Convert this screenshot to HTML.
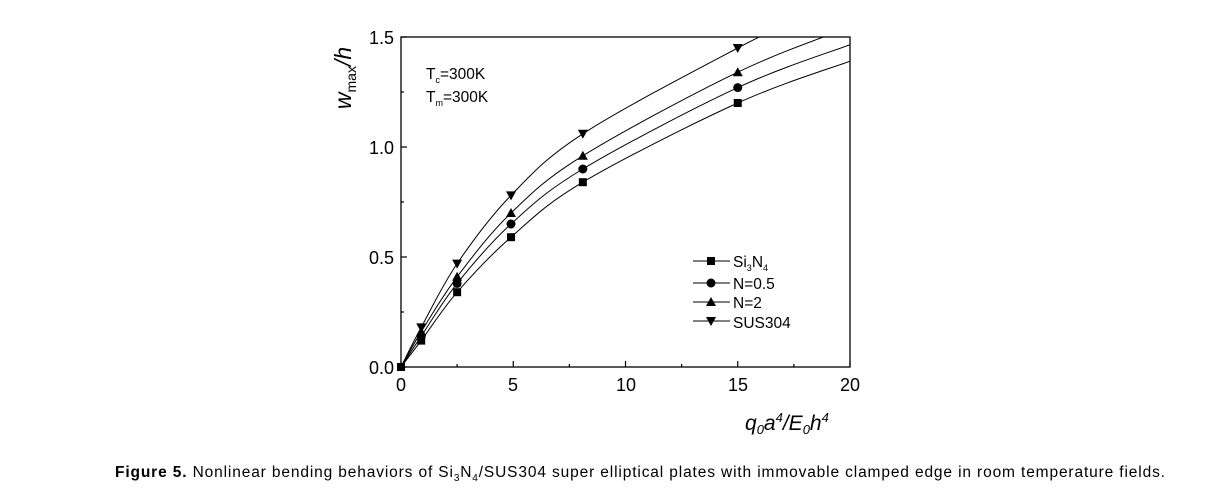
<!DOCTYPE html>
<html><head><meta charset="utf-8"><style>
body{margin:0;background:#fff;width:1205px;height:492px;overflow:hidden;font-family:"Liberation Sans",Arial,sans-serif}
</style></head><body>
<svg width="1205" height="492" xmlns="http://www.w3.org/2000/svg" font-family="Liberation Sans, Arial, sans-serif">
<rect x="401" y="37" width="449" height="330" fill="none" stroke="#000" stroke-width="1.3"/>
<g stroke="#000" stroke-width="1.2" id="ticks"></g>
<g font-size="18" fill="#000" text-anchor="end">
<text x="394" y="44">1.5</text><text x="394" y="154">1.0</text><text x="394" y="264">0.5</text><text x="394" y="374">0.0</text>
</g>
<g font-size="18" fill="#000" text-anchor="middle">
<text x="401" y="391">0</text><text x="513" y="391">5</text><text x="626" y="391">10</text><text x="738" y="391">15</text><text x="850" y="391">20</text>
</g>
<text transform="translate(351,78) rotate(-90)" text-anchor="middle" font-size="23" font-style="italic">w<tspan font-size="14" dy="5" font-style="normal">max</tspan><tspan dy="-5">/h</tspan></text>
<text x="426" y="79" font-size="15.5">T<tspan font-size="9" dy="4">c</tspan><tspan dy="-4">=300K</tspan></text>
<text x="426" y="102" font-size="15.5">T<tspan font-size="9" dy="4">m</tspan><tspan dy="-4">=300K</tspan></text>
<text x="745" y="430" font-size="21" font-style="italic">q<tspan font-size="13" dy="4">0</tspan><tspan dy="-4">a</tspan><tspan font-size="13" dy="-8">4</tspan><tspan dy="8">/E</tspan><tspan font-size="13" dy="4">0</tspan><tspan dy="-4">h</tspan><tspan font-size="13" dy="-8">4</tspan></text>
<g id="curves" fill="none" stroke="#000" stroke-width="1"></g>
<g id="marks" fill="#000"></g>
<g font-size="15.5">
<text x="733" y="267">Si<tspan font-size="9" dy="4">3</tspan><tspan dy="-4">N</tspan><tspan font-size="9" dy="4">4</tspan></text>
<text x="733" y="289">N=0.5</text>
<text x="733" y="308">N=2</text>
<text x="733" y="328">SUS304</text>
</g>
<text x="115" y="477" font-size="15.5" textLength="1050" lengthAdjust="spacing"><tspan font-weight="bold">Figure 5.</tspan> Nonlinear bending behaviors of Si<tspan font-size="10" dy="4">3</tspan><tspan dy="-4">N</tspan><tspan font-size="10" dy="4">4</tspan><tspan dy="-4">/SUS304 super elliptical plates with immovable clamped edge in room temperature fields.</tspan></text>
</svg>
<script>
const X=x=>401+x*22.45,Y=y=>367-y*220;
const ns="http://www.w3.org/2000/svg";
function el(p,t,a){const e=document.createElementNS(ns,t);for(const k in a)e.setAttribute(k,a[k]);p.appendChild(e);return e;}
const svg=document.querySelector('svg');
const tk=document.getElementById('ticks');
for(let i=0;i<=8;i++){const x=X(i*2.5);el(tk,'line',{x1:x,x2:x,y1:367,y2:367-(i%2?3:6)});}
for(let i=0;i<=6;i++){const y=Y(i*0.25);el(tk,'line',{x1:401,x2:401+(i%2?3:6),y1:y,y2:y});}
const xs=[0,0.9,2.5,4.9,8.1,15,20];
const S=[[0,0.12,0.34,0.59,0.84,1.2,1.39],[0,0.14,0.38,0.65,0.90,1.27,1.465],[0,0.16,0.41,0.70,0.96,1.34,1.545],[0,0.18,0.47,0.78,1.06,1.45,1.7]];
const cv=document.getElementById('curves'),mk=document.getElementById('marks');
function marker(t,x,y){
 if(t==0)el(mk,'rect',{x:x-4,y:y-4,width:8,height:8});
 else if(t==1)el(mk,'circle',{cx:x,cy:y,r:4.5});
 else if(t==2)el(mk,'polygon',{points:`${x},${y-5} ${x-5},${y+4} ${x+5},${y+4}`});
 else el(mk,'polygon',{points:`${x},${y+5} ${x-5},${y-4} ${x+5},${y-4}`});
}
const cp=el(svg,'clipPath',{id:'cp'});el(cp,'rect',{x:401,y:37,width:449,height:330});
cv.setAttribute('clip-path','url(#cp)');
S.forEach((ys,t)=>{
 const P=xs.map((x,i)=>[X(x),Y(ys[i])]);
 let d=`M${P[0][0]},${P[0][1]}`;
 for(let i=0;i<P.length-1;i++){
  const p0=P[Math.max(0,i-1)],p1=P[i],p2=P[i+1],p3=P[Math.min(P.length-1,i+2)];
  const c1=[p1[0]+(p2[0]-p0[0])/6,p1[1]+(p2[1]-p0[1])/6],c2=[p2[0]-(p3[0]-p1[0])/6,p2[1]-(p3[1]-p1[1])/6];
  d+=` C${c1} ${c2} ${p2}`;
 }
 el(cv,'path',{d});
 for(let i=1;i<6;i++)marker(t,P[i][0],P[i][1]);
 const ly=[261,283,302,321][t];
 el(svg,'line',{x1:693,x2:730,y1:ly,y2:ly,stroke:'#000','stroke-width':1});
 marker(t,711,ly);
});
marker(0,X(0),Y(0));
</script>
</body></html>
